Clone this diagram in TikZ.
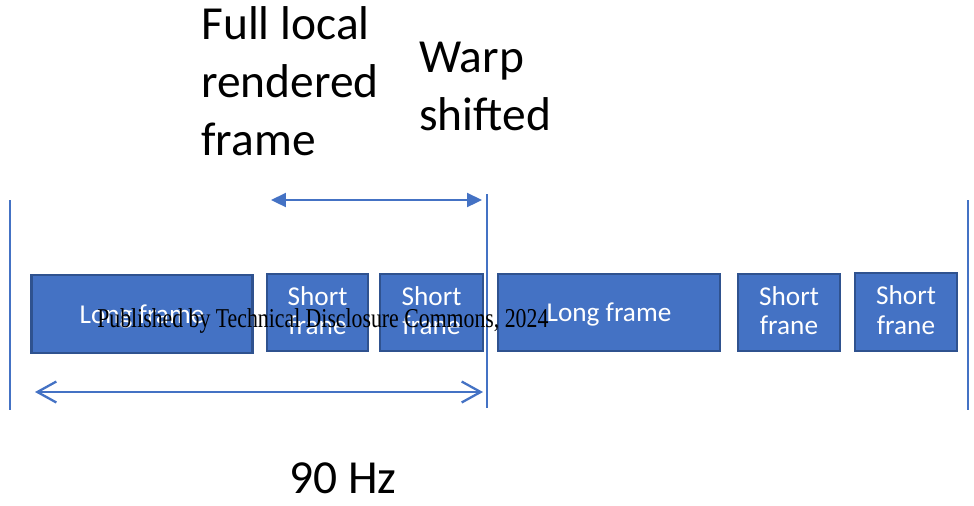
\documentclass[tikz,border=0pt]{standalone}
\usepackage{fontspec}
\setmainfont{Carlito}
\newfontfamily\wmfont{Liberation Serif}
\usetikzlibrary{arrows.meta}
\definecolor{boxblue}{HTML}{4472C4}
\definecolor{edgeblue}{HTML}{2F528F}
\tikzset{
	framebox/.style={draw=edgeblue, line width=1.2pt, fill=boxblue, text=white, font=\fontsize{15.5}{17}\selectfont, align=center, minimum height=1.55cm, inner sep=0pt},
	longbox/.style={framebox, text height=13.6pt, text depth=3.1pt},
	shortbox/.style={framebox, minimum width=2.05cm, text height=25.6pt, text depth=0pt},
	headtext/.style={font=\fontsize{27}{33}\selectfont, align=left, inner sep=0pt},
	marker/.style={boxblue, line width=0.8pt},
	span/.style={boxblue, line width=1.3pt},
}

\begin{document}
\begin{tikzpicture}[x=0.02cm, y=-0.02cm]
			%%%%% START %%%%%
			\useasboundingbox (0,0) rectangle (974,505);
			
			\node[headtext, anchor=north west] (full) at (201, 6) {Full local\\rendered\\frame};
			\node[headtext, anchor=north west] (warp) at (419, 42) {Warp\\shifted};
			
			\coordinate (leftTop) at (10, 200);
			\coordinate (leftBot) at (10, 410);
			\coordinate (midTop) at (487, 194);
			\coordinate (midBot) at (487, 408);
			\coordinate (rightTop) at (968, 200);
			\coordinate (rightBot) at (968, 410);
			\draw[marker] (leftTop) -- (leftBot);
			\draw[marker] (midTop) -- (midBot);
			\draw[marker] (rightTop) -- (rightBot);
			
			\coordinate (warpL) at (271, 200);
			\coordinate (warpR) at (482, 200);
			\draw[span, {Triangle[length=3mm, width=2.8mm]}-{Triangle[length=3mm, width=2.8mm]}] (warpL) -- (warpR);
			
			\node[longbox, minimum width=4.42cm] (longA) at (142, 314) {Long frame};
			\node[shortbox, minimum width=2.03cm] (shortA) at (317.5, 312.5) {Short\\frane};
			\node[shortbox] (shortB) at (431.5, 312.5) {Short\\frane};
			\node[longbox, minimum width=4.44cm] (longB) at (609, 312.5) {Long frame};
			\node[shortbox] (shortC) at (789, 312.5) {Short\\frane};
			\node[shortbox] (shortD) at (906, 312) {Short\\frane};
			
			\coordinate (periodL) at (35, 392);
			\coordinate (periodR) at (483, 392);
			\draw[span, {Straight Barb[length=3.8mm, width=4.2mm]}-{Straight Barb[length=3.8mm, width=4.2mm]}] (periodL) -- (periodR);
			
			\node[headtext, anchor=base west] (rate) at (289, 493) {90 Hz};
			
			\node[xscale=0.8, anchor=base west, inner sep=0pt, font=\wmfont\fontsize{15.5}{18}\selectfont] (mark) at (97, 327) {Published by Technical Disclosure Commons, 2024};
			%%%%% END %%%%%
		\end{tikzpicture}
\end{document}
